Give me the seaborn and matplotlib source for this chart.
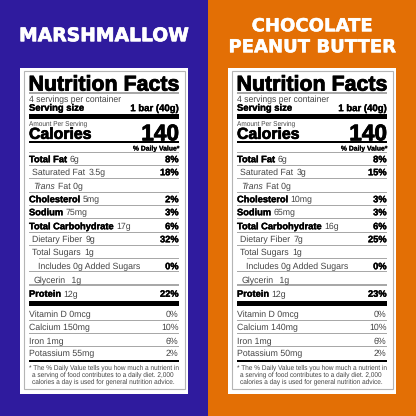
import matplotlib
matplotlib.use("Agg")
import matplotlib.pyplot as plt
import matplotlib.patheffects as pe
from matplotlib.patches import Rectangle
import seaborn as sns

flavors = [["MARSHMALLOW"], ["CHOCOLATE", "PEANUT BUTTER"]]
panel_colors = ["#2f1b9e", "#e36f05"]

servings = "4 servings per container"
serving_size = "1 bar (40g)"
calories = "140"

# label, amount, %DV for the main block
main_labels = ["Total Fat", "Saturated Fat", "Trans", "Cholesterol", "Sodium", "Total Carbohydrate",
               "Dietary Fiber", "Total Sugars", "Includes 0g Added Sugars", "Glycerin", "Protein"]
main_amounts = [["6g", "3.5g", "Fat 0g", "5mg", "75mg", "17g", "9g", "1g", "", " 1g", "12g"],
                ["6g", "3g", "Fat 0g", "10mg", "65mg", "16g", "7g", "1g", "", " 1g", "12g"]]
main_dv = [["8%", "18%", "", "2%", "3%", "6%", "32%", "", "0%", "", "22%"],
           ["8%", "15%", "", "3%", "3%", "6%", "25%", "", "0%", "", "23%"]]
main_bold = [True, False, False, True, True, True, False, False, False, False, True]
main_y = [159, 172, 186, 199, 212, 226, 239, 252, 266, 279.5, 293.5]
main_indent = [0, 3.5, 4, 0, 0, 0, 3.5, 3.5, 9.5, 5, 0]
main_rules = [165, 178.5, 192, 205, 218.7, 232, 245, 258.5, 271.5, 285]

vit_labels = ["Vitamin D", "Calcium", "Iron", "Potassium"]
vit_amounts = [["0mcg", "150mg", "1mg", "55mg"], ["0mcg", "140mg", "1mg", "50mg"]]
vit_dv = [["0%", "10%", "6%", "2%"], ["0%", "10%", "6%", "2%"]]
vit_y = [314, 327, 340.5, 353]
vit_rules = [320, 333.5, 346.5]

footnote = ["* The % Daily Value tells you how much a nutrient in",
            "a serving of food contributes to a daily diet. 2,000",
            "calories a day is used for general nutrition advice."]

sns.set_theme(style="white")
plt.rcParams["font.family"] = ["Liberation Sans", "DejaVu Sans"]
plt.rcParams["text.hinting"] = "no_hinting"

fig = plt.figure(figsize=(4.16, 4.16), dpi=100)
ax = fig.add_axes([0, 0, 1, 1])
ax.set_xlim(0, 416)
ax.set_ylim(416, 0)
ax.set_xticks([])
ax.set_yticks([])
sns.despine(ax=ax, left=True, bottom=True)

GRAY = "#a8a8a8"
TXT = "#444444"


def put(x, y, s, size, bold=False, ha="left", color=None, style="normal", stroke=0.0):
    t = ax.text(x, y, s, fontsize=size, fontweight="bold" if bold else "normal", ha=ha, va="center_baseline",
                color=color or ("black" if bold else TXT), fontstyle=style)
    if stroke:
        t.set_path_effects([pe.withStroke(linewidth=stroke, foreground=t.get_color())])
    return t


def rule(y, x0, x1, lw=1.0, color=GRAY):
    ax.add_patch(Rectangle((x0, y - lw / 2), x1 - x0, lw, color=color, lw=0))


for i, off in enumerate([0, 208]):
    L, R = 29 + off, 179 + off
    ax.add_patch(Rectangle((off, 0), 208, 416, color=panel_colors[i], lw=0))
    ax.add_patch(Rectangle((20 + off, 68), 168, 325.5, color="white", lw=0))
    ax.add_patch(Rectangle((23.5 + off, 71), 161, 318, fc="white", ec="#b5b5b5", lw=0.8))

    # flavour heading
    if len(flavors[i]) == 1:
        h = ax.text(104 + off, 34, flavors[i][0], color="white", fontsize=13.5, fontweight="bold",
                    ha="center", va="center_baseline", family="DejaVu Sans")
        h.set_path_effects([pe.withStroke(linewidth=0.5, foreground="white")])
    else:
        for s, y in zip(flavors[i], [24.5, 45.5]):
            h = ax.text(104 + off, y, s, color="white", fontsize=13, fontweight="bold",
                        ha="center", va="center_baseline", family="DejaVu Sans")
            h.set_path_effects([pe.withStroke(linewidth=0.3, foreground="white")])

    put(L - 0.5, 83, "Nutrition Facts", 15.4, True, stroke=0.6)
    rule(93, L, R, 1.2)
    put(L, 98.5, servings, 6.2)
    put(L, 107.5, "Serving size", 6.8, True, stroke=0.25)
    put(R, 107.5, serving_size, 6.9, True, ha="right", stroke=0.25)
    rule(116.5, L, R, 5, "black")
    put(L, 123, "Amount Per Serving", 4.7)
    put(L, 133, "Calories", 11.4, True, stroke=0.5)
    put(R, 132, calories, 16.3, True, ha="right", stroke=0.6)
    rule(141.5, L, R, 2, "black")
    put(R, 148, "% Daily Value*", 4.9, True, ha="right", stroke=0.15)
    rule(152.5, L, R, 0.8)

    for j, name in enumerate(main_labels):
        x = L + main_indent[j]
        y = main_y[j]
        b = main_bold[j]
        lab = put(x, y, name, 6.7 if b else 6.3, b, style="italic" if name == "Trans" else "normal",
                  stroke=0.25 if b else 0)
        fig.canvas.draw()
        end = lab.get_window_extent().x1
        if main_amounts[i][j]:
            put(end + 2.8, y, main_amounts[i][j], 6.3)
        if main_dv[i][j]:
            put(R - 0.5, y, main_dv[i][j], 6.7, True, ha="right", stroke=0.25)
    for j, y in enumerate(main_rules):
        x0 = L + 9.5 if y == 258.5 else L
        rule(y, x0, R, 1.0 if y != 285 else 1.3)
    rule(303.5, L, R, 5, "black")

    for j, name in enumerate(vit_labels):
        y = vit_y[j]
        put(L, y, name + " " + vit_amounts[i][j], 6.3)
        put(R - 0.5, y, vit_dv[i][j], 6.3, ha="right")
    for y in vit_rules:
        rule(y, L, R, 1.0)
    rule(361, L, R, 2, "black")

    put(L, 367, footnote[0], 4.7)
    put(L + 3.5, 374, footnote[1], 4.7)
    put(L + 3.5, 381, footnote[2], 4.7)

fig.savefig("out.png", dpi=100)
